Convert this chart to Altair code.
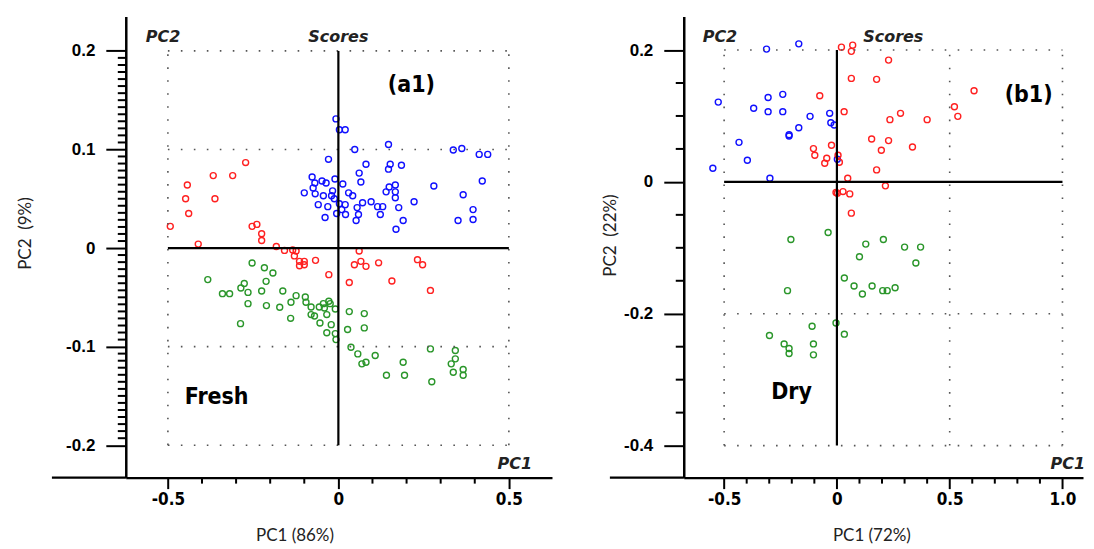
import altair as alt
import pandas as pd

# ---------------- data: panel (a1) Fresh ----------------
a_blue_x = [-0.007, 0.003, 0.020, 0.048, 0.147, 0.337, 0.362, 0.413, 0.438, -0.029, 0.081, 0.152, 0.185, 0.147,
            0.061, -0.077, 0.422, 0.066, -0.010, -0.048, -0.069, -0.036, 0.013, 0.280, 0.167, 0.149, -0.074, 0.140,
            0.167, -0.017, -0.100, -0.068, -0.044, -0.020, 0.030, 0.042, 0.366, 0.167, -0.012, 0.222, 0.096, 0.071,
            -0.059, 0.003, 0.020, 0.115, 0.130, -0.031, 0.055, 0.177, 0.395, 0.010, -0.005, 0.021, 0.059, 0.123,
            -0.039, 0.052, 0.190, 0.351, 0.395, 0.169]
a_blue_y = [0.131, 0.120, 0.120, 0.100, 0.105, 0.0995, 0.101, 0.095, 0.095, 0.090, 0.085, 0.085, 0.084, 0.080,
            0.076, 0.072, 0.068, 0.067, 0.070, 0.068, 0.066, 0.066, 0.065, 0.063, 0.064, 0.062, 0.061, 0.057,
            0.057, 0.058, 0.056, 0.055, 0.053, 0.053, 0.056, 0.053, 0.054, 0.051, 0.050, 0.047, 0.047, 0.046,
            0.044, 0.045, 0.044, 0.042, 0.042, 0.042, 0.041, 0.041, 0.039, 0.039, 0.035, 0.034, 0.034, 0.034,
            0.031, 0.028, 0.028, 0.028, 0.029, 0.019]
a_red_x = [-0.272, -0.367, -0.310, -0.443, -0.448, -0.362, -0.439, -0.493, -0.253, -0.239, -0.225, -0.225, -0.411,
           -0.182, -0.158, -0.134, -0.124, -0.129, -0.114, -0.100, -0.114, -0.100, -0.067, -0.028, 0.061, 0.047,
           0.066, 0.081, 0.118, 0.032, 0.157, 0.232, 0.247, 0.270]
a_red_y = [0.0867, 0.0735, 0.0735, 0.064, 0.050, 0.050, 0.035, 0.022, 0.022, 0.024, 0.0145, 0.0077, 0.004,
           0.0016, -0.0024, -0.002, -0.003, -0.008, -0.0135, -0.0135, -0.018, -0.017, -0.0125, -0.027, -0.003, -0.017,
           -0.0135, -0.0186, -0.015, -0.035, -0.0335, -0.0118, -0.017, -0.043]
a_green_x = [-0.253, -0.217, -0.192, -0.383, -0.212, -0.276, -0.286, -0.265, -0.340, -0.319, -0.225, -0.163, -0.124,
             -0.097, -0.139, -0.265, -0.211, -0.172, -0.095, -0.080, -0.056, -0.044, -0.028, -0.024, -0.041, -0.009,
             -0.080, -0.070, -0.034, -0.140, -0.054, -0.287, -0.021, 0.032, 0.076, 0.027, 0.076, -0.034, -0.009,
             -0.007, 0.037, 0.057, 0.108, 0.081, 0.069, 0.190, 0.141, 0.194, 0.270, 0.343, 0.343, 0.331, 0.337,
             0.366, 0.366, 0.274]
a_green_y = [-0.0152, -0.020, -0.0253, -0.032, -0.0338, -0.036, -0.0405, -0.045, -0.0463, -0.0463, -0.0436, -0.0436,
             -0.0483, -0.0496, -0.055, -0.0564, -0.0584, -0.0601, -0.055, -0.0598, -0.0598, -0.0564, -0.054, -0.0564,
             -0.0608, -0.0618, -0.0675, -0.069, -0.0675, -0.0713, -0.076, -0.0767, -0.0777, -0.0645, -0.0665, -0.0827,
             -0.081, -0.086, -0.0868, -0.0929, -0.1006, -0.1074, -0.109, -0.1158, -0.1175, -0.1158, -0.129, -0.129,
             -0.1023, -0.104, -0.1124, -0.1175, -0.126, -0.1232, -0.129, -0.1357]

# ---------------- data: panel (b1) Dry ----------------
b_blue_x = [-0.312, -0.169, -0.526, -0.305, -0.240, -0.369, -0.305, -0.240, -0.119, -0.032, -0.027, -0.012, -0.169,
            -0.212, -0.212, -0.434, -0.397, -0.550, -0.297, 0.002]
b_blue_y = [0.2014, 0.2094, 0.121, 0.128, 0.1328, 0.1116, 0.1065, 0.1065, 0.0994, 0.104, 0.0898, 0.0863, 0.0822,
            0.0716, 0.0696, 0.060, 0.0328, 0.0207, 0.0056, 0.0343]
b_red_x = [0.020, 0.070, 0.064, 0.229, 0.064, 0.176, 0.608, -0.076, 0.521, 0.536, 0.032, 0.282, 0.235, 0.400, 0.154,
           0.229, 0.335, 0.197, -0.104, -0.024, -0.098, -0.045, -0.054, 0.005, 0.011, 0.176, 0.048, 0.215, -0.004,
           0.002, 0.027, 0.057, 0.064]
b_red_y = [0.2044, 0.2074, 0.198, 0.1847, 0.157, 0.1555, 0.1383, 0.1307, 0.114, 0.0994, 0.1065, 0.104, 0.0944,
           0.0944, 0.0651, 0.0626, 0.053, 0.048, 0.0505, 0.0555, 0.0404, 0.0358, 0.0283, 0.0404, 0.0298, 0.0182,
           0.0056, -0.006, -0.0162, -0.0171, -0.0147, -0.0182, -0.0474]
b_green_x = [-0.039, -0.204, 0.128, 0.206, 0.300, 0.371, 0.100, 0.350, 0.033, 0.076, 0.156, 0.113, 0.203, 0.223,
             0.258, -0.219, -0.004, 0.033, -0.110, -0.299, -0.234, -0.212, -0.212, -0.104, -0.104]
b_green_y = [-0.0767, -0.0873, -0.0944, -0.0873, -0.0989, -0.0989, -0.1136, -0.1231, -0.1458, -0.158, -0.158, -0.170,
             -0.165, -0.165, -0.1605, -0.165, -0.214, -0.231, -0.219, -0.233, -0.2458, -0.2528, -0.2604, -0.2458,
             -0.2624]

groups = ["blue", "red", "green"]
colors = ["#1010ff", "#ff2020", "#2a962a"]

# axis ticks
a_x_major = [-0.5, 0, 0.5]
a_x_minor = [-0.4, -0.3, -0.2, -0.1, 0.1, 0.2, 0.3, 0.4]
a_y_major = [-0.2, -0.1, 0, 0.1, 0.2]
a_y_minor = [-0.1929, -0.1857, -0.1786, -0.1714, -0.1643, -0.1571, -0.15, -0.1429, -0.1357, -0.1286, -0.1214,
             -0.1143, -0.1071, -0.0929, -0.0857, -0.0786, -0.0714, -0.0643, -0.0571, -0.05, -0.0429, -0.0357,
             -0.0286, -0.0214, -0.0143, -0.0071, 0.0071, 0.0143, 0.0214, 0.0286, 0.0357, 0.0429, 0.05, 0.0571,
             0.0643, 0.0714, 0.0786, 0.0857, 0.0929, 0.1071, 0.1143, 0.1214, 0.1286, 0.1357, 0.1429, 0.15, 0.1571,
             0.1643, 0.1714, 0.1786, 0.1857, 0.1929]
b_x_major = [-0.5, 0, 0.5, 1.0]
b_x_minor = [-0.4, -0.3, -0.2, -0.1, 0.1, 0.2, 0.3, 0.4, 0.6, 0.7, 0.8, 0.9]
b_y_major = [-0.4, -0.2, 0, 0.2]
b_y_minor = [-0.35, -0.3, -0.25, -0.15, -0.1, -0.05, 0.05, 0.1, 0.15]

# reference frames (dotted) and solid cross lines
a_hdot = [0.2, 0.1, -0.1, -0.2]
a_vdot = [-0.5, 0.5]
a_box = (-0.5, 0.5, -0.2, 0.2)
b_hdot = [0.2, -0.2, -0.4]
b_vdot = [-0.5, 0.5, 1.0]
b_box = (-0.5, 1.0, -0.4, 0.2)

LABEL_EXPR = ("datum.value == 0 ? '0' : (datum.value < 0 ? '-' + format(-datum.value, '.1f') "
              ": format(datum.value, '.1f'))")
NARROW = "'DejaVu Sans Condensed', 'Liberation Sans Narrow', Roboto, sans-serif"


def make_df(bx, by, rx, ry, gx, gy):
    rows = []
    for g, xs, ys in zip(groups, [bx, rx, gx], [by, ry, gy]):
        for a, b in zip(xs, ys):
            rows.append({"x": a, "y": b, "grp": g})
    return pd.DataFrame(rows)


def panel(pid, df, xdom, ydom, W, H, xmaj, xmin, ymaj, ymin, hdot, vdot, box,
          xtitle, ytitle, xtitle_x, ytitle_x, ytitle_y, tag, tag_xy, name, name_xy,
          pc2_xy, scores_xy, pc1_xy):
    xs = alt.Scale(domain=xdom, nice=False, zero=False)
    ys = alt.Scale(domain=ydom, nice=False, zero=False)
    ux = (xdom[1] - xdom[0]) / W   # data units per pixel
    uy = (ydom[1] - ydom[0]) / H

    xaxis = alt.Axis(values=xmaj, labelExpr=LABEL_EXPR, tickSize=11, tickWidth=2, tickColor="black",
                     domainColor="black", domainWidth=2.5, grid=False, labelFont=NARROW,
                     labelFontWeight="bold", labelFontSize=17, labelColor="black", labelPadding=3,
                     labelFlush=False, labelOverlap=False, title=xtitle, titleFont="Lato",
                     titleFontWeight="normal", titleFontSize=17, titleColor="#222", titleX=xtitle_x,
                     titleY=58, titleBaseline="middle", titleAlign="center", orient="bottom")
    yaxis = alt.Axis(values=ymaj, labelExpr=LABEL_EXPR, tickSize=20, tickWidth=2, tickColor="black",
                     domainColor="black", domainWidth=2.5, grid=False, labelFont="Liberation Sans",
                     labelFontWeight="bold", labelFontSize=17, labelColor="black", labelPadding=11,
                     labelFlush=False, labelOverlap=False, title=ytitle, titleFont="Lato",
                     titleFontWeight="normal", titleFontSize=17, titleColor="#222", titleX=ytitle_x,
                     titleY=ytitle_y, titleAngle=-90, titleBaseline="middle", titleAlign="center",
                     orient="left")

    # minor ticks: short rules just outside the axis lines, placed through both scales
    ytk = pd.DataFrame({"ty" + pid: ymin, "tx" + pid: [xdom[0] - 8 * ux] * len(ymin),
                        "tx2" + pid: [xdom[0]] * len(ymin)})
    xtk = pd.DataFrame({"sx" + pid: xmin, "sy" + pid: [ydom[0]] * len(xmin),
                        "sy2" + pid: [ydom[0] - 6 * uy] * len(xmin)})
    ymt = alt.Chart(ytk).mark_rule(color="black", strokeWidth=2, clip=False).encode(
        y=alt.Y("ty" + pid + ":Q", scale=ys, axis=None),
        x=alt.X("tx" + pid + ":Q", scale=xs, axis=None), x2="tx2" + pid + ":Q")
    xmt = alt.Chart(xtk).mark_rule(color="black", strokeWidth=2, clip=False).encode(
        x=alt.X("sx" + pid + ":Q", scale=xs, axis=None),
        y=alt.Y("sy" + pid + ":Q", scale=ys, axis=None), y2="sy2" + pid + ":Q")

    hd = pd.DataFrame({"y": hdot, "x": [box[0]] * len(hdot), "x2": [box[1]] * len(hdot)})
    vd = pd.DataFrame({"x": vdot, "y": [box[2]] * len(vdot), "y2": [box[3]] * len(vdot)})
    dash = dict(color="#555", strokeDash=[1.6, 11.4], strokeWidth=1.6)
    hdots = alt.Chart(hd).mark_rule(**dash).encode(
        x=alt.X("x:Q", scale=xs, axis=None), x2="x2:Q", y=alt.Y("y:Q", scale=ys, axis=None))
    vdots = alt.Chart(vd).mark_rule(**dash).encode(
        x=alt.X("x:Q", scale=xs, axis=None), y=alt.Y("y:Q", scale=ys, axis=None), y2="y2:Q")

    cross_h = alt.Chart(pd.DataFrame({"y": [0], "x": [box[0]], "x2": [box[1]]})).mark_rule(
        color="black", strokeWidth=2.2).encode(x=alt.X("x:Q", scale=xs, axis=None), x2="x2:Q",
                                                y=alt.Y("y:Q", scale=ys, axis=None))
    cross_v = alt.Chart(pd.DataFrame({"x": [0], "y": [box[2]], "y2": [box[3]]})).mark_rule(
        color="black", strokeWidth=2.2).encode(x=alt.X("x:Q", scale=xs, axis=None),
                                                y=alt.Y("y:Q", scale=ys, axis=None), y2="y2:Q")

    ext = alt.Chart(pd.DataFrame({"a" + pid: [0]})).mark_rule(color="black", strokeWidth=2.5).encode(
        x=alt.value(-74), x2=alt.value(0), y=alt.value(H))

    pts = alt.Chart(df).mark_point(shape="circle", filled=False, size=36, strokeWidth=1.4, opacity=1).encode(
        x=alt.X("x:Q", scale=xs, axis=xaxis),
        y=alt.Y("y:Q", scale=ys, axis=yaxis),
        color=alt.Color("grp:N", scale=alt.Scale(domain=groups, range=colors), legend=None))

    def txt(s, xy, **kw):
        d = pd.DataFrame({"x": [xy[0]], "y": [xy[1]], "t": [s]})
        return alt.Chart(d).mark_text(**kw).encode(
            x=alt.X("x:Q", scale=xs, axis=None), y=alt.Y("y:Q", scale=ys, axis=None), text="t:N")

    italic = dict(font="DejaVu Sans", fontWeight="bold", fontStyle="italic", fontSize=16, color="#222",
                  baseline="alphabetic")
    t_pc2 = txt("PC2", pc2_xy, align="left", **italic)
    t_sc = txt("Scores", scores_xy, align="center", **italic)
    t_pc1 = txt("PC1", pc1_xy, align="right", **italic)
    t_tag = txt(tag, tag_xy, align="center", baseline="middle", font=NARROW,
                fontWeight="bold", fontSize=23, color="black")
    t_name = txt(name, name_xy, align="center", baseline="middle", font=NARROW,
                 fontWeight="bold", fontSize=23, color="black")

    return alt.layer(pts, hdots, vdots, cross_h, cross_v, ext,
                     t_pc2, t_sc, t_pc1, t_tag, t_name, ymt, xmt).resolve_axis(
        x="independent", y="independent").properties(width=W, height=H)


df_a = make_df(a_blue_x, a_blue_y, a_red_x, a_red_y, a_green_x, a_green_y)
df_b = make_df(b_blue_x, b_blue_y, b_red_x, b_red_y, b_green_x, b_green_y)

H = 462
left = panel("a", df_a, [-0.6235, 0.6265], [-0.2329, 0.2349], 427, H, a_x_major, a_x_minor, a_y_major,
             a_y_minor, a_hdot, a_vdot, a_box, "PC1 (86%)", "PC2\u00a0 (9%)", 169, -100, H / 2 - 14,
             "(a1)", (0.214, 0.165), "Fresh", (-0.357, -0.151),
             (-0.565, 0.2089), (0.0, 0.2089), (0.568, -0.2245))
right = panel("b", df_b, [-0.679, 1.091], [-0.4486, 0.2509], 400, H, b_x_major, b_x_minor, b_y_major,
              b_y_minor, b_hdot, b_vdot, b_box, "PC1 (72%)", "PC2\u00a0 (22%)", 188, -73, H / 2 - 12,
              "(b1)", (0.85, 0.1325), "Dry", (-0.201, -0.318),
              (-0.595, 0.2124), (0.25, 0.2124), (1.10, -0.436))

chart = alt.hconcat(left, right, spacing=50).properties(
    padding={"left": 9, "top": 8, "right": 0, "bottom": 0}
).configure_view(stroke=None).configure_concat(spacing=50)

chart.save("out.html", embed_options={"renderer": "svg", "actions": False})
